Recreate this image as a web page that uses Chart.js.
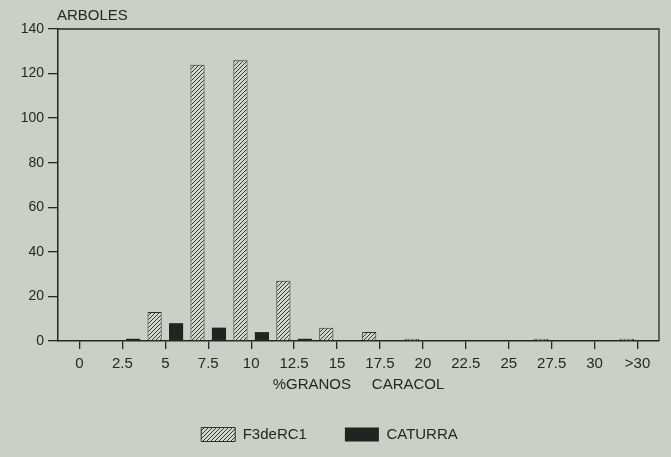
<!DOCTYPE html>
<html>
<head>
<meta charset="utf-8">
<script src="https://cdn.jsdelivr.net/npm/chart.js@4/dist/chart.umd.min.js"></script>
<style>
  body { margin: 0; background: #cad0c6; }
  canvas { display: block; }
</style>
</head>
<body>
<canvas id="myChart" width="671" height="457"></canvas>
<script>
const categories = ["0", "2.5", "5", "7.5", "10", "12.5", "15", "17.5", "20", "22.5", "25", "27.5", "30", ">30"];
const f3deRC1 = [0, 0, 13, 124, 126, 27, 6, 4, 1, 0, 0, 1, 0, 1];
const caturra = [0, 1, 8, 6, 4, 1, 0, 0, 0, 0, 0, 0, 0, 0];
const yTicks = [0, 20, 40, 60, 80, 100, 120, 140];

const ink = "#222823";
const bg = "#cad0c6";
const font = "'Liberation Sans', Arial, sans-serif";

// hatched fill ////
const makeHatch = () => {
  const c = document.createElement("canvas");
  c.width = 4;
  c.height = 4;
  const ctx = c.getContext("2d");
  ctx.fillStyle = "#d2d7ce";
  ctx.fillRect(0, 0, 4, 4);
  ctx.strokeStyle = "#333a34";
  ctx.lineWidth = 1;
  ctx.beginPath();
  ctx.moveTo(-1, 5);
  ctx.lineTo(5, -1);
  ctx.moveTo(-1, 1);
  ctx.lineTo(1, -1);
  ctx.moveTo(3, 5);
  ctx.lineTo(5, 3);
  ctx.stroke();
  return ctx.createPattern(c, "repeat");
};
const hatch = makeHatch();

const frame = {
  id: "frame",
  beforeDraw(chart) {
    const { ctx, width, height } = chart;
    ctx.save();
    ctx.fillStyle = bg;
    ctx.fillRect(0, 0, width, height);
    ctx.restore();
  },
  afterDraw(chart) {
    const { ctx, chartArea: a } = chart;
    ctx.save();
    ctx.strokeStyle = ink;
    ctx.lineWidth = 1.3;
    ctx.beginPath();
    ctx.moveTo(a.left, a.top);
    ctx.lineTo(a.right, a.top);
    ctx.lineTo(a.right, a.bottom);
    ctx.stroke();
    ctx.fillStyle = ink;
    ctx.font = "15px " + font;
    ctx.fillText("ARBOLES", a.left - 1, a.top - 13);
    ctx.restore();
  },
};

const chartElement = document.getElementById("myChart");
const myChart = new Chart(chartElement, {
  type: "bar",
  data: {
    labels: categories,
    datasets: [
      {
        label: "F3deRC1",
        data: f3deRC1,
        backgroundColor: hatch,
        borderColor: "#2a302b",
        borderWidth: 1,
        barPercentage: 0.66,
        categoryPercentage: 1,
      },
      {
        label: "CATURRA",
        data: caturra,
        backgroundColor: "#1f2520",
        borderColor: "#1f2520",
        borderWidth: 0,
        barPercentage: 0.66,
        categoryPercentage: 1,
      },
    ],
  },
  options: {
    responsive: false,
    animation: false,
    layout: { padding: { top: 29, right: 12, left: 0, bottom: 5 } },
    plugins: {
      tooltip: { enabled: false },
      legend: {
        position: "bottom",
        labels: {
          color: ink,
          font: { family: font, size: 15 },
          boxWidth: 34,
          boxHeight: 14,
          padding: 38,
        },
      },
    },
    scales: {
      x: {
        offset: true,
        grid: {
          offset: false,
          drawOnChartArea: false,
          drawTicks: true,
          tickLength: 8,
          color: ink,
          lineWidth: 1.3,
        },
        border: { color: ink, width: 1.5 },
        ticks: {
          color: ink,
          font: { family: font, size: 15 },
          padding: 6,
          maxRotation: 0,
          autoSkip: false,
        },
        title: {
          display: true,
          text: "%GRANOS     CARACOL",
          color: ink,
          font: { family: font, size: 15 },
          padding: { top: 4, bottom: -5 },
        },
        afterFit: (s) => {
          s.height = 48;
        },
      },
      y: {
        min: 0,
        max: 140,
        afterBuildTicks: (s) => {
          s.ticks = yTicks.map((v) => ({ value: v }));
        },
        grid: {
          drawOnChartArea: false,
          drawTicks: true,
          tickLength: 10,
          color: ink,
          lineWidth: 1.3,
        },
        border: { color: ink, width: 1.5 },
        ticks: {
          color: ink,
          font: { family: font, size: 14 },
          padding: 4,
        },
        afterFit: (s) => {
          s.width = 58;
        },
      },
    },
  },
  plugins: [frame],
});
</script>
</body>
</html>
